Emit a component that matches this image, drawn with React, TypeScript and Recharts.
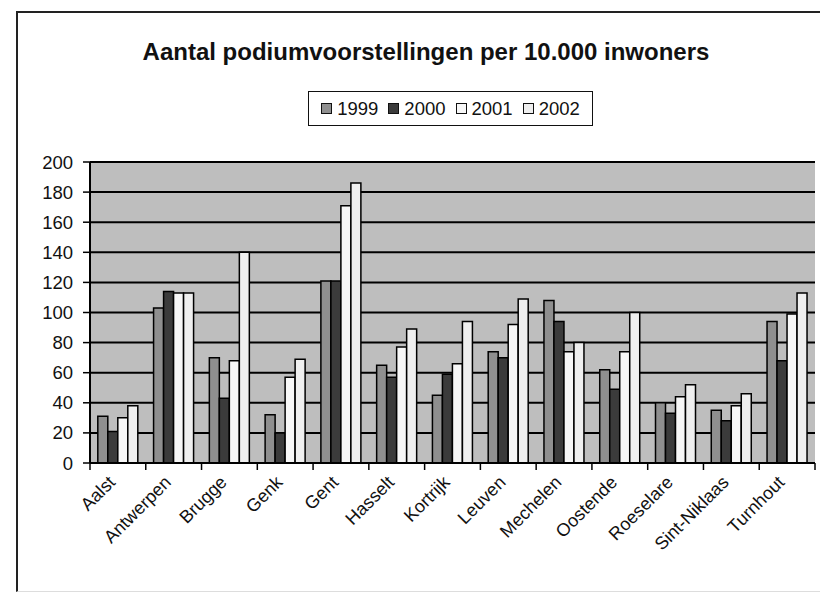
import React from 'react';
import { BarChart, Bar, XAxis, YAxis, CartesianGrid, Legend } from 'recharts';

const categories = ['Aalst', 'Antwerpen', 'Brugge', 'Genk', 'Gent', 'Hasselt', 'Kortrijk', 'Leuven', 'Mechelen', 'Oostende', 'Roeselare', 'Sint-Niklaas', 'Turnhout'];
const v1999 = [31, 103, 70, 32, 121, 65, 45, 74, 108, 62, 40, 35, 94];
const v2000 = [21, 114, 43, 20, 121, 57, 59, 70, 94, 49, 33, 28, 68];
const v2001 = [30, 113, 68, 57, 171, 77, 66, 92, 74, 74, 44, 38, 99];
const v2002 = [38, 113, 140, 69, 186, 89, 94, 109, 80, 100, 52, 46, 113];
const yTicks = [0, 20, 40, 60, 80, 100, 120, 140, 160, 180, 200];

const seriesNames = ['1999', '2000', '2001', '2002'];
const seriesColors = ['#8f8f8f', '#3b3b3b', '#f7f7f7', '#efefef'];

const data = categories.map((c, i) => ({
  name: c,
  '1999': v1999[i],
  '2000': v2000[i],
  '2001': v2001[i],
  '2002': v2002[i],
}));

const W = 820;
const H = 594;
const M = { top: 162, right: 5, bottom: 11, left: 30 };
const YW = 60;
const PLOT_LEFT = M.left + YW;
const PLOT_RIGHT = W - M.right;
const BAND = (PLOT_RIGHT - PLOT_LEFT) / categories.length;
const FONT = '"Liberation Sans", Arial, sans-serif';

const XTick = (props: any) => {
  const { x, y, payload, index } = props;
  const isLast = index === categories.length - 1;
  return (
    <g>
      <line x1={x - BAND / 2} y1={y - 8} x2={x - BAND / 2} y2={y - 1} stroke="#000" strokeWidth={1.5} />
      {isLast && (
        <line x1={x + BAND / 2} y1={y - 8} x2={x + BAND / 2} y2={y - 1} stroke="#000" strokeWidth={1.5} />
      )}
      <g transform={`translate(${x - 6},${y + 8})`}>
        <text
          x={0}
          y={0}
          dy="0.35em"
          textAnchor="end"
          transform="rotate(-45)"
          fontSize={18}
          fontFamily={FONT}
          fill="#111"
        >
          {payload.value}
        </text>
      </g>
    </g>
  );
};

const LegendBox = () => (
  <div
    style={{
      border: '1.5px solid #111',
      background: '#fff',
      height: 35,
      boxSizing: 'border-box',
      display: 'flex',
      alignItems: 'center',
      justifyContent: 'center',
      gap: 10,
      fontFamily: FONT,
      fontSize: 18.5,
      color: '#111',
    }}
  >
    {seriesNames.map((n, i) => (
      <div key={n} style={{ display: 'flex', alignItems: 'center' }}>
        <span
          style={{
            display: 'inline-block',
            width: 9,
            height: 9,
            background: seriesColors[i],
            border: '1px solid #111',
            marginRight: 5,
          }}
        />
        <span>{n}</span>
      </div>
    ))}
  </div>
);

export default function App() {
  return (
    <div style={{ position: 'absolute', left: 0, top: 0, width: W, height: H, background: '#fff', overflow: 'hidden' }}>
      <div
        style={{
          position: 'absolute',
          left: 16,
          top: 11,
          width: W,
          height: 578,
          borderLeft: '2px solid #222',
          borderTop: '2px solid #222',
          borderBottom: '1px solid #ddd',
        }}
      />
      <div
        style={{
          position: 'absolute',
          left: 16,
          width: 820,
          top: 38,
          textAlign: 'center',
          fontFamily: FONT,
          fontWeight: 'bold',
          fontSize: 24,
          color: '#111',
        }}
      >
        Aantal podiumvoorstellingen per 10.000 inwoners
      </div>
      <div style={{ position: 'absolute', left: 0, top: 0 }}>
        <BarChart width={W} height={H} data={data} margin={M} barCategoryGap="14%" barGap={0}>
          <CartesianGrid vertical={false} fill="#bebebe" stroke="#000" strokeWidth={2} />
          <XAxis
            dataKey="name"
            interval={0}
            height={120}
            tickLine={false}
            axisLine={{ stroke: '#000', strokeWidth: 2 }}
            tick={<XTick />}
          />
          <YAxis
            width={YW}
            domain={[0, 200]}
            ticks={yTicks}
            interval={0}
            tickSize={7}
            tickMargin={10}
            axisLine={{ stroke: '#000', strokeWidth: 2 }}
            tickLine={{ stroke: '#000', strokeWidth: 1.5 }}
            tick={{ fontSize: 18.5, fontFamily: FONT, fill: '#111' }}
          />
          <YAxis
            yAxisId="r"
            orientation="right"
            width={0}
            domain={[0, 200]}
            tick={false}
            tickLine={false}
            axisLine={{ stroke: '#000', strokeWidth: 2 }}
          />
          <Legend
            content={<LegendBox />}
            layout="horizontal"
            verticalAlign="middle"
            align="center"
            wrapperStyle={{ position: 'absolute', top: 91, left: 308, width: 285 }}
          />
          {seriesNames.map((n, i) => (
            <Bar key={n} dataKey={n} fill={seriesColors[i]} stroke="#000" strokeWidth={1.5} isAnimationActive={false} />
          ))}
        </BarChart>
      </div>
    </div>
  );
}
